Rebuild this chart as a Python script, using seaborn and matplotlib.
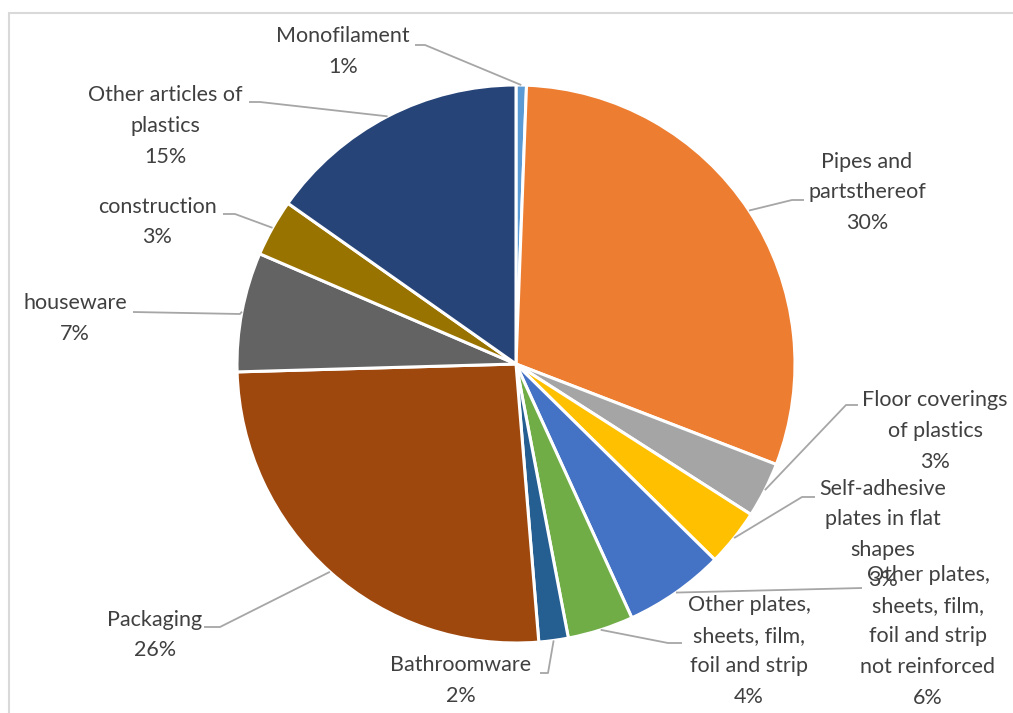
import matplotlib
matplotlib.use("Agg")
import matplotlib.pyplot as plt
import matplotlib.patches as mpatches
import numpy as np
import seaborn as sns

# ---- data ----
categories = [
    "Monofilament",
    "Pipes and\npartsthereof",
    "Floor coverings\nof plastics",
    "Self-adhesive\nplates in flat\nshapes",
    "Other plates,\nsheets, film,\nfoil and strip\nnot reinforced",
    "Other plates,\nsheets, film,\nfoil and strip",
    "Bathroomware",
    "Packaging",
    "houseware",
    "construction",
    "Other articles of\nplastics",
]
values = [0.6, 30.2, 3.2, 3.3, 5.8, 3.8, 1.7, 25.8, 6.9, 3.3, 15.2]
colors = ["#5B9BD5", "#ED7D31", "#A5A5A5", "#FFC000", "#4472C4", "#70AD47",
          "#255E91", "#9E480E", "#636363", "#997300", "#264478"]

# ---- layout (pixel coordinates, y measured from top) ----
W, H = 1013, 713
CX, CY, R = 516, 364, 279
# text centre (x, y of block centre), elbow point, end point of leader
label_pos = [
    (343, 51.5), (867, 192.5), (935, 431), (883, 534.5), (928, 636.5),
    (749, 651), (461, 680.5), (155, 635), (75, 318.5), (157, 222), (165, 126),
]
elbows = [
    ((425, 45), (415, 45)), ((792, 200), (804, 200)), ((846, 405), (858, 405)),
    ((802, 497), (815, 497)), ((862, 588), (862, 588)), ((668, 643), (682, 643)),
    ((548, 673), (540, 673)), ((220, 627), (204, 627)), ((240, 314), (133, 312)),
    ((235, 214), (223, 214)), ((260, 102), (249, 102)),
]

sns.set_theme(style="white")
plt.rcParams['font.family'] = ['Lato', 'DejaVu Sans']

fig = plt.figure(figsize=(W / 100, H / 100), dpi=100)
ax = fig.add_axes([0, 0, 1, 1])

def fy(y):
    return H - y

wedges, _ = ax.pie(values, colors=colors, startangle=90, counterclock=False,
                   center=(CX, fy(CY)), radius=R,
                   wedgeprops=dict(edgecolor="white", linewidth=2.2))

total = sum(values)
txtcol = "#404040"
linecol = "#A6A6A6"
for w, name, v, (tx, ty), (elb, end) in zip(wedges, categories, values, label_pos, elbows):
    mid = np.deg2rad((w.theta1 + w.theta2) / 2)
    ax_x = CX + R * np.cos(mid)
    ax_y = fy(CY) + R * np.sin(mid)
    ax.plot([ax_x, elb[0], end[0]], [ax_y, fy(elb[1]), fy(end[1])],
            color=linecol, lw=1.3, solid_capstyle="butt", zorder=1)
    ax.text(tx, fy(ty), f"{name}\n{round(v / total * 100)}%", ha="center",
            va="center", multialignment="center", fontsize=15.5, color=txtcol,
            linespacing=1.66, zorder=5)

ax.add_patch(mpatches.Rectangle((9, -20), 1100, fy(13) + 20, fill=False,
                                edgecolor="#D9D9D9", lw=1.5, zorder=0))

ax.set_xlim(0, W)
ax.set_ylim(0, H)
ax.set_aspect("equal")
ax.axis("off")
fig.savefig("out.png", dpi=100)
